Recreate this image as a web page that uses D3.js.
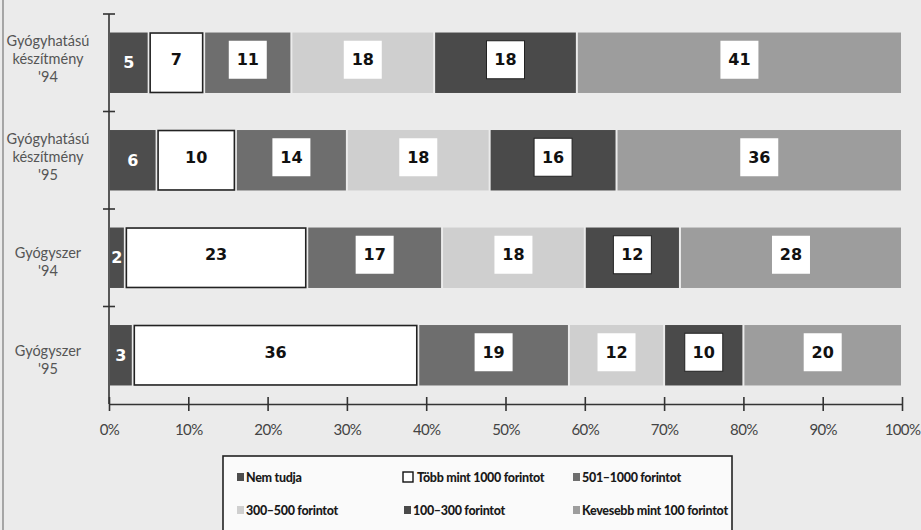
<!DOCTYPE html>
<html>
<head>
<meta charset="utf-8">
<script src="https://cdn.jsdelivr.net/npm/d3@7"></script>
<style>
  html, body { margin: 0; padding: 0; background: #ebebeb; }
  svg { display: block; }
</style>
</head>
<body>
<svg id="chart" width="921" height="530"></svg>
<script>
// Category rows, top to bottom (each label split into lines)
const categories = ["gyk94", "gyk95", "gy94", "gy95"];
const categoryLines = [
  ["Gyógyhatású", "készítmény", "'94"],
  ["Gyógyhatású", "készítmény", "'95"],
  ["Gyógyszer", "'94"],
  ["Gyógyszer", "'95"]
];

// Price bands (stack order, left to right)
const seriesNames = [
  "Nem tudja",
  "Több mint 1000 forintot",
  "501–1000 forintot",
  "300–500 forintot",
  "100–300 forintot",
  "Kevesebb mint 100 forintot"
];
const seriesColors = ["#4d4d4d", "#ffffff", "#6e6e6e", "#cfcfcf", "#4a4a4a", "#9d9d9d"];

// Percent shares per row, in series order
const nemTudja   = [5, 6, 2, 3];
const tobbMint1000 = [7, 10, 23, 36];
const f501_1000  = [11, 14, 17, 19];
const f300_500   = [18, 18, 18, 12];
const f100_300   = [18, 16, 12, 10];
const kevesebb100 = [41, 36, 28, 20];
const seriesValues = [nemTudja, tobbMint1000, f501_1000, f300_500, f100_300, kevesebb100];

const xTicks = [0, 10, 20, 30, 40, 50, 60, 70, 80, 90, 100];

// Legend layout order: two rows of three
const legendOrder = [0, 1, 2, 3, 4, 5];

const svg = d3.select("#chart");
const W = 921, H = 530;

svg.append("rect").attr("width", W).attr("height", H).attr("fill", "#ebebeb");
// thin frame line on the left edge
svg.append("line").attr("x1", 3).attr("x2", 3).attr("y1", 0).attr("y2", H)
  .attr("stroke", "#777").attr("stroke-width", 1.2);

const x = d3.scaleLinear().domain([0, 100]).range([109, 902]);
const y = d3.scaleBand().domain(categories).range([14, 404])
  .paddingInner(0.38).paddingOuter(0.19);

// Build stacked table
const table = categories.map((c, i) => {
  const row = { cat: c };
  seriesNames.forEach((s, k) => row[s] = seriesValues[k][i]);
  return row;
});
const stacked = d3.stack().keys(seriesNames)(table);

const axisColor = "#333";

// Bars
const g = svg.append("g");
stacked.forEach((layer, k) => {
  const isWhite = k === 1;
  g.selectAll(null).data(layer).enter().append("rect")
    .attr("x", d => x(d[0]) + (isWhite ? 1.5 : 1))
    .attr("y", d => y(d.data.cat) + (isWhite ? 0.5 : 0))
    .attr("width", d => x(d[1]) - x(d[0]) - (isWhite ? 3 : 2))
    .attr("height", y.bandwidth() - (isWhite ? 1 : 0))
    .attr("fill", seriesColors[k])
    .attr("stroke", isWhite ? "#222" : "none")
    .attr("stroke-width", isWhite ? 1.6 : 0);
});

// Value labels
const boxSize = 38;
stacked.forEach((layer, k) => {
  layer.forEach(d => {
    const v = d[1] - d[0];
    const cx = (x(d[0]) + x(d[1])) / 2;
    const cy = y(d.data.cat) + y.bandwidth() / 2 - 3;
    const lg = svg.append("g");
    if (k === 0) {
      lg.append("text").attr("x", cx).attr("y", cy + 3)
        .attr("text-anchor", "middle").attr("dominant-baseline", "central")
        .attr("font-family", "DejaVu Sans, sans-serif").attr("font-weight", 700)
        .attr("font-size", 16).attr("fill", "#fff").text(v);
    } else {
      if (k !== 1) {
        lg.append("rect").attr("x", cx - boxSize / 2).attr("y", cy - boxSize / 2)
          .attr("width", boxSize).attr("height", boxSize)
          .attr("fill", "#fff")
          .attr("stroke", k === 4 ? "#222" : "none").attr("stroke-width", 1);
      }
      lg.append("text").attr("x", cx).attr("y", cy)
        .attr("text-anchor", "middle").attr("dominant-baseline", "central")
        .attr("font-family", "DejaVu Sans, sans-serif").attr("font-weight", 700)
        .attr("font-size", 16).attr("fill", "#111").text(v);
    }
  });
});

// Y axis line and row separators
const yAxisX = x(0);
svg.append("line").attr("x1", yAxisX).attr("x2", yAxisX)
  .attr("y1", 14).attr("y2", 404).attr("stroke", axisColor).attr("stroke-width", 1.6);
const sepYs = [14].concat(categories.slice(1).map(c => y(c) - y.step() * y.paddingInner() / 2));
svg.selectAll(null).data(sepYs).enter().append("line")
  .attr("x1", yAxisX - 6).attr("x2", yAxisX + 6)
  .attr("y1", d => d).attr("y2", d => d)
  .attr("stroke", axisColor).attr("stroke-width", 1.6);

// Category labels
categories.forEach((c, i) => {
  const lines = categoryLines[i];
  const lh = 18;
  const cy = y(c) + y.bandwidth() / 2 + (lines.length === 3 ? -4 : 4);
  const t = svg.append("text").attr("text-anchor", "middle")
    .attr("font-family", "Lato, sans-serif").attr("font-size", 14.5)
    .attr("fill", "#555");
  lines.forEach((ln, j) => {
    t.append("tspan").attr("x", 48)
      .attr("y", cy + (j - (lines.length - 1) / 2) * lh)
      .attr("dominant-baseline", "central").text(ln);
  });
});

// X axis
const xAxis = d3.axisBottom(x).tickValues(xTicks).tickFormat(d => d + "%")
  .tickSize(0).tickPadding(20);
const xg = svg.append("g").attr("transform", "translate(0,404)").call(xAxis);
xg.select(".domain").attr("stroke", axisColor).attr("stroke-width", 1.6);
xg.selectAll(".tick line").remove();
xg.selectAll(".tick").append("line")
  .attr("y1", -7).attr("y2", 7).attr("stroke", axisColor).attr("stroke-width", 1.6);
xg.selectAll(".tick text")
  .attr("font-family", "Lato, sans-serif").attr("font-size", 15)
  .attr("fill", "#444").attr("letter-spacing", -0.6);

// Legend
const lgX = 223, lgY = 456;
svg.append("rect").attr("x", lgX).attr("y", lgY).attr("width", 509).attr("height", 90)
  .attr("fill", "#fafafa").attr("stroke", "#222").attr("stroke-width", 1.6);
const colX = [237, 404, 573];
const rowY = [477, 510];
legendOrder.forEach((k, idx) => {
  const cx = colX[idx % 3], cy = rowY[Math.floor(idx / 3)];
  const white = k === 1;
  svg.append("rect")
    .attr("x", cx - (white ? 1 : 0)).attr("y", cy - (white ? 5 : 4))
    .attr("width", white ? 10 : 7).attr("height", white ? 10 : 8)
    .attr("fill", seriesColors[k])
    .attr("stroke", white ? "#111" : "none").attr("stroke-width", 1.4);
  svg.append("text").attr("x", cx + (white ? 13 : 9)).attr("y", cy)
    .attr("dominant-baseline", "central")
    .attr("font-family", "Lato, sans-serif").attr("font-weight", 900)
    .attr("font-size", 12.5).attr("letter-spacing", -0.3).attr("fill", "#1a1a1a")
    .text(seriesNames[k]);
});
</script>
</body>
</html>
